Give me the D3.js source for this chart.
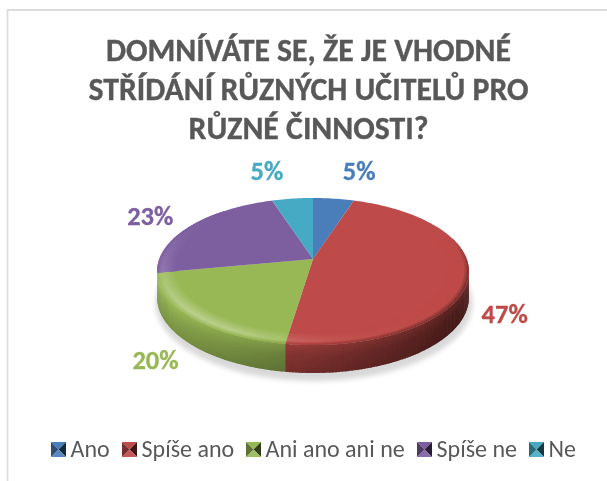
<!DOCTYPE html>
<html><head><meta charset="utf-8">
<script src="https://cdn.jsdelivr.net/npm/d3@7/dist/d3.min.js"></script>
<style>html,body{margin:0;padding:0;background:#fff}svg{display:block}</style>
</head><body><svg id="c" width="607" height="481"></svg>
<script>
const categories = ["Ano","Spíše ano","Ani ano ani ne","Spíše ne","Ne"];
const values = [5,47.4,19.6,23,5];
const labels = ["5%","47%","20%","23%","5%"];
const colors = ["#4a7ebb","#be4b48","#98b855","#7d5fa0","#46aac5"];
const titleLines = ["DOMNÍVÁTE SE, ŽE JE VHODNÉ","STŘÍDÁNÍ RŮZNÝCH UČITELŮ PRO","RŮZNÉ ČINNOSTI?"];

const W=607,H=481, FONT="Carlito, Calibri, Lato, 'Noto Sans', sans-serif";
const svg=d3.select("#c");
const defs=svg.append("defs");
const blur=(id,s)=>defs.append("filter").attr("id",id).attr("x","-20%").attr("y","-20%").attr("width","140%").attr("height","140%")
  .append("feGaussianBlur").attr("stdDeviation",s);
blur("soft",0.7); blur("shadow",2.6); blur("text",0.3);

// frame
svg.append("path").attr("d",`M${W},10H7.5V${H}`).attr("fill","none").attr("stroke","#dcdcdc").attr("stroke-width",1.8);

// title
const titleBase=[60.5,100,139];
svg.append("g").attr("filter","url(#text)").selectAll("text").data(titleLines).join("text")
  .attr("x",308.5).attr("y",(d,i)=>titleBase[i]).attr("text-anchor","middle")
  .attr("font-family",FONT).attr("font-weight",700).attr("font-size",31.8).attr("fill","#595959")
  .attr("stroke","#595959").attr("stroke-width",.35).text(d=>d);

// perspective projection of the pie disc
const cx=313, cy=259, A=153.7, B=71.4, K=0.17, DEPTH=25;
const proj=(t,r=1,d=0)=>{const u=Math.sin(t)*r,v=Math.cos(t)*r,s=1/(1+K*v);
  return [cx+A*u*s, cy-B*v*s+d*(1-0.12*v)];};
const arcs=d3.pie().sort(null).value(d=>d)(values);
const line=d3.line();

// ground shadow
svg.append("path").attr("filter","url(#shadow)").attr("fill","#cfcfcf").attr("opacity",.8)
  .attr("d",line(d3.range(0,2*Math.PI,.05).map(t=>{const p=proj(t,1.015,DEPTH+3);return [p[0]+1,p[1]+3];}))+"Z");

const pie=svg.append("g").attr("filter","url(#soft)");
function shade(base,k){const c=d3.rgb(base);
  if(k<=1) return d3.rgb(c.r*k,c.g*k,c.b*k)+"";
  const m=k-1;return d3.rgb(c.r+(255-c.r)*m,c.g+(255-c.g)*m,c.b+(255-c.b)*m)+"";}
const clamp=x=>Math.max(0,Math.min(1,x));
const lit=t=>clamp(.5-.62*Math.sin(t));
const lerp=(a,b,p)=>a+(b-a)*p;
const crest=t=>{const d=(t*180/Math.PI-222)/40;return 1+.04+.3*Math.exp(-d*d);};
const rimK=t=>{const l=lit(t);return .5+.5*l;};
const dT=.018;

// walls
arcs.forEach((a,i)=>{
  const base=colors[i];
  const g=pie.append("g");
  for(let t=a.startAngle;t<a.endAngle;t+=dT){
    if(Math.cos(t)>-.17) continue;
    const t2=Math.min(t+dT*1.4,a.endAngle), l=lit(t), e=rimK(t), w=.4+.5*l, b=.36+.42*l;
    const steps=12;
    for(let j=0;j<steps;j++){
      const p=j/steps, p2=Math.min(1,(j+1.4)/steps);
      const k=p<.35?lerp(e,w,p/.35):lerp(w,b,(p-.35)/.65);
      g.append("path").attr("fill",shade(base,k))
       .attr("d",line([proj(t,1,DEPTH*p),proj(t2,1,DEPTH*p),proj(t2,1,DEPTH*p2),proj(t,1,DEPTH*p2)])+"Z");
    }
  }
});

// top faces with bevel ring
arcs.forEach((a,i)=>{
  const base=colors[i], pts=[];
  for(let t=a.startAngle;t<a.endAngle;t+=.02)pts.push(proj(t));
  pts.push(proj(a.endAngle));
  pie.append("path").attr("fill",base).attr("d",line([proj(0,0),...pts])+"Z");
  const g=pie.append("g"), rings=9, R0=.87;
  for(let t=a.startAngle;t<a.endAngle;t+=dT){
    const cs=Math.cos(t), l=lit(t);
    const front=l>.5?clamp((.75-cs)/.6):clamp((.3-cs)/.5);
    if(front<=0) continue;
    const t2=Math.min(t+dT*1.4,a.endAngle);
    const c=lerp(1,crest(t),clamp(l*1.4)), e=rimK(t);
    for(let j=0;j<rings;j++){
      const p=j/rings, pNext=Math.min(1,(j+1.4)/rings);
      const r1=lerp(R0,1,p), r2=lerp(R0,1,pNext);
      const raw=p<.68?lerp(1,c,p/.68):lerp(c,e,(p-.68)/.32);
      const k=1+(raw-1)*front;
      g.append("path").attr("fill",shade(base,k))
       .attr("d",line([proj(t,r1),proj(t2,r1),proj(t2,r2),proj(t,r2)])+"Z");
    }
  }
});

// data labels, placed relative to each slice's projected rim midpoint
const labelOffsets=[[25.5,-25],[36,40],[-36,44.6],[-41,-7],[-25.5,-25]];
svg.append("g").attr("filter","url(#text)").selectAll("text").data(arcs).join("text")
  .each(function(a,i){
    const p=proj((a.startAngle+a.endAngle)/2);
    d3.select(this).attr("x",p[0]+labelOffsets[i][0]).attr("y",p[1]+labelOffsets[i][1]);
  })
  .attr("text-anchor","middle").attr("dominant-baseline","middle")
  .attr("font-family",FONT).attr("font-weight",700).attr("font-size",26.5)
  .attr("fill",(a,i)=>colors[i]).attr("stroke",(a,i)=>colors[i]).attr("stroke-width",.3).text((a,i)=>labels[i]);

// legend
const legendX=[51,122,246,417,529];
const lg=svg.append("g").attr("filter","url(#text)").selectAll("g").data(categories).join("g")
  .attr("transform",(d,i)=>`translate(${legendX[i]},442)`);
const S=15;
lg.each(function(d,i){
  const g=d3.select(this),b=colors[i],c=[S/2,S/2];
  [[[0,0],[S,0],1],[[S,0],[S,S],.33],[[S,S],[0,S],1.08],[[0,S],[0,0],.62]].forEach(q=>{
    g.append("path").attr("fill",shade(b,q[2])).attr("d",line([q[0],q[1],c])+"Z");
  });
  g.append("text").attr("x",S+4.5).attr("y",14.5).attr("font-family",FONT).attr("font-size",24).attr("fill","#595959").text(d);
});
</script></body></html>
